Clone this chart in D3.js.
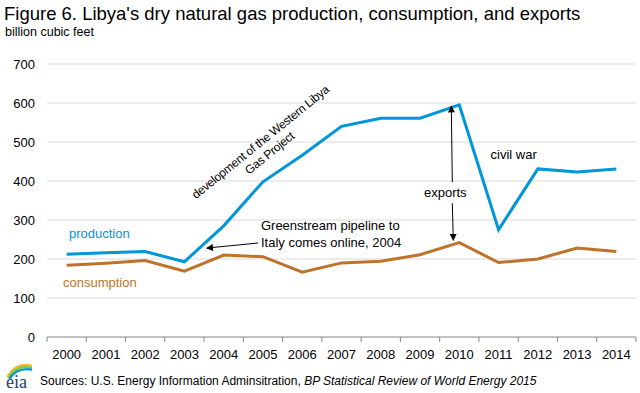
<!DOCTYPE html>
<html>
<head>
<meta charset="utf-8">
<script src="https://cdn.jsdelivr.net/npm/d3@7"></script>
<style>
	body { margin: 0; background: #fff; }
	svg { font-family: "Liberation Sans", Arial, sans-serif; }
	.grid line { stroke: #d9d9d9; }
	.axis text { font-size: 13px; fill: #000; }
</style>
</head>
<body>
<svg id="chart" width="640" height="393"></svg>
<script>
var years = ['2000','2001','2002','2003','2004','2005','2006','2007','2008','2009','2010','2011','2012','2013','2014'];
var production = [212, 216, 219, 193, 285, 398, 466, 540, 561, 561, 595, 275, 431, 423, 431];
var consumption = [184, 189, 196, 169, 210, 206, 166, 190, 194, 211, 242, 191, 200, 228, 219];
var yTicks = [0, 100, 200, 300, 400, 500, 600, 700];

var margin = {left : 47, right : 4, top : 64, bottom : 56};
var svg = d3.select('#chart'),
	width = 640 - margin.left - margin.right,
	height = 393 - margin.top - margin.bottom;

var x = d3.scaleBand().domain(years).range([0, width]);
var y = d3.scaleLinear().domain([0, 700]).range([height, 0]);
var cx = function(i){ return x(years[i]) + x.bandwidth() / 2; };

svg.append('defs').append('marker')
	.attr('id', 'arr')
	.attr('viewBox', '0 0 10 10')
	.attr('refX', 9).attr('refY', 5)
	.attr('markerWidth', 9).attr('markerHeight', 7)
	.attr('orient', 'auto-start-reverse')
	.append('path')
	.attr('d', 'M0,0L10,5L0,10z')
	.attr('fill', '#000');

// title
svg.append('text').attr('x', 4).attr('y', 20)
	.style('font-size', '18.5px')
	.text("Figure 6. Libya's dry natural gas production, consumption, and exports");
svg.append('text').attr('x', 5).attr('y', 36)
	.style('font-size', '12.5px')
	.text('billion cubic feet');

var g = svg.append('g').attr('transform', `translate(${margin.left},${margin.top})`);

// gridlines
g.append('g').attr('class', 'grid')
	.selectAll('line')
	.data(yTicks.slice(1))
	.enter().append('line')
	.attr('x1', 0).attr('x2', width)
	.attr('y1', d => y(d)).attr('y2', d => y(d));

// y labels
g.append('g').attr('class', 'axis')
	.selectAll('text')
	.data(yTicks)
	.enter().append('text')
	.attr('x', -12).attr('y', d => y(d)).attr('dy', '0.35em')
	.attr('text-anchor', 'end')
	.text(d => d);

// x axis
var xAxis = g.append('g').attr('class', 'axis')
	.attr('transform', `translate(0,${height})`);
xAxis.append('line').attr('x1', 0).attr('x2', width).attr('stroke', '#868686');
xAxis.selectAll('.tk')
	.data(years.concat(['end']))
	.enter().append('line')
	.attr('x1', (d, i) => i * x.bandwidth()).attr('x2', (d, i) => i * x.bandwidth())
	.attr('y1', 0).attr('y2', 5)
	.attr('stroke', '#868686');
xAxis.selectAll('text')
	.data(years)
	.enter().append('text')
	.attr('x', (d, i) => cx(i)).attr('y', 22)
	.attr('text-anchor', 'middle')
	.text(d => d);

// lines
var line = d3.line()
	.x((d, i) => cx(i))
	.y(d => y(d));

g.append('path').datum(consumption)
	.attr('d', line).attr('fill', 'none')
	.attr('stroke', '#bd732a').attr('stroke-width', 3);
g.append('path').datum(production)
	.attr('d', line).attr('fill', 'none')
	.attr('stroke', '#0096d7').attr('stroke-width', 3);

// series labels
g.append('text').attr('x', 22).attr('y', y(255))
	.attr('fill', '#0096d7').style('font-size', '13px').text('production');
g.append('text').attr('x', 16).attr('y', y(128))
	.attr('fill', '#bd732a').style('font-size', '13px').text('consumption');

// annotations
var devLabel = g.append('text')
	.attr('transform', `translate(${cx(5)},${y(492)}) rotate(-39)`)
	.attr('text-anchor', 'middle')
	.style('font-size', '12px')
	.style('letter-spacing', '-0.3px');
devLabel.append('tspan').attr('x', 0).attr('dy', 0).text('development of the Western Libya');
devLabel.append('tspan').attr('x', 0).attr('dy', '1.2em').text('Gas Project');

var gs = g.append('text').style('font-size', '13px');
gs.append('tspan').attr('x', cx(5) - 2).attr('y', y(274)).text('Greenstream  pipeline to');
gs.append('tspan').attr('x', cx(5) - 2).attr('y', y(231)).text('Italy comes online, 2004');
g.append('line')
	.attr('x1', cx(5) - 5).attr('y1', y(241))
	.attr('x2', cx(4) - 17).attr('y2', y(228))
	.attr('stroke', '#000').attr('stroke-width', 1)
	.attr('marker-end', 'url(#arr)');

var ex = cx(10) - 7;
g.append('line')
	.attr('x1', ex).attr('y1', y(397)).attr('x2', ex - 1).attr('y2', y(592))
	.attr('stroke', '#000').attr('marker-end', 'url(#arr)');
g.append('line')
	.attr('x1', ex).attr('y1', y(343)).attr('x2', ex + 1).attr('y2', y(248))
	.attr('stroke', '#000').attr('marker-end', 'url(#arr)');
g.append('text').attr('x', ex - 7).attr('y', y(359))
	.attr('text-anchor', 'middle').style('font-size', '13px').text('exports');

g.append('text').attr('x', cx(11) - 8).attr('y', y(456))
	.style('font-size', '13px').text('civil war');

// source
var src = svg.append('text').attr('x', 40).attr('y', 385).style('font-size', '12px');
src.append('tspan').text('Sources: U.S. Energy Information Adminsitration, ');
src.append('tspan').style('font-style', 'italic').text('BP Statistical Review of World Energy 2015');

// eia logo
var logo = svg.append('g').attr('transform', 'translate(5,363)');
[['#f7b733', 0], ['#8cc63f', 3], ['#0096d7', 6]].forEach(function(c){
	logo.append('path')
		.attr('d', `M${2 + c[1] * 0.4},${14 + c[1] * 0.3} Q${12},${c[1] - 2} ${27},${3 + c[1] * 0.6}`)
		.attr('fill', 'none').attr('stroke', c[0]).attr('stroke-width', 2.2);
});
logo.append('text').attr('x', 1).attr('y', 25)
	.style('font-family', '"Liberation Serif", serif').style('font-size', '18px')
	.attr('fill', '#1f3b6f').text('eia');
</script>
</body>
</html>
